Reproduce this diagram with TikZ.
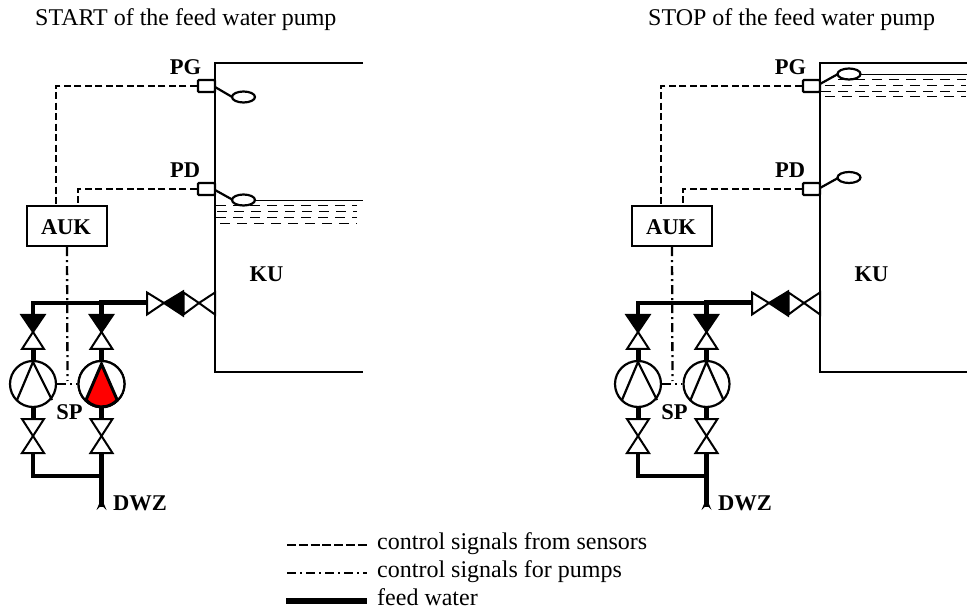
\documentclass[tikz,border=0pt]{standalone}
\usepackage{fontspec}
\setmainfont{Liberation Serif}
\usetikzlibrary{shapes.geometric}
\tikzset{
  wall/.style={line width=2.2pt},
  feed/.style={line width=5pt},
  feedthin/.style={line width=4.2pt},
  sensorsig/.style={line width=2.3pt,dash pattern=on 7pt off 3.5pt},
  pumpsig/.style={line width=2.3pt,dash pattern=on 9pt off 4pt on 2pt off 4pt},
  boxnode/.style={draw,line width=2.2pt,fill=white,inner sep=0pt},
  pumpnode/.style={draw,circle,line width=2.2pt,fill=white,minimum size=46pt,inner sep=0pt},
  floatnode/.style={draw,ellipse,line width=2.2pt,fill=white,minimum width=23pt,minimum height=11pt,inner sep=0pt},
  lab/.style={font=\fontsize{22.5}{24}\selectfont\bfseries,inner sep=0pt},
  txt/.style={font=\fontsize{24}{26}\selectfont,inner sep=0pt},
  wh/.style={draw,line width=2pt,fill=white,line join=miter},
  bl/.style={draw,line width=2pt,fill=black,line join=miter},
  waterline/.style={line width=1.2pt},
  waterdash/.style={line width=1pt,dash pattern=on 10pt off 7pt},
}
\newcommand{\feedpanel}[2]{%
\begin{scope}[xshift=#1pt,name prefix=#2-]
  % tank
  \draw[wall,line join=miter] (363,63) -- (215,63) -- (215,372) -- (363,372);
  % nodes
  \node[boxnode,minimum width=80pt,minimum height=40pt] (auk) at (67,226) {};
  \node[lab] (auklabel) at (66,227) {AUK};
  \node[boxnode,minimum width=17pt,minimum height=12pt,rounded corners=1pt] (pg) at (206.5,86) {};
  \node[boxnode,minimum width=17pt,minimum height=12pt,rounded corners=1pt] (pd) at (206.5,189) {};
  \node[pumpnode] (pl) at (33,384) {};
  \node[pumpnode] (pr) at (101.5,384) {};
  \node[lab] (lpg) at (185.5,67) {PG};
  \node[lab] (lpd) at (185,170) {PD};
  \node[lab] (lku) at (266.5,274) {KU};
  \node[lab] (lsp) at (69.5,412) {SP};
  \node[lab] (ldwz) at (140,503) {DWZ};
  % coordinates
  \coordinate (bend1) at (56,86);
  \coordinate (bend2) at (78,189);
  \coordinate (aukg) at (56,206);
  \coordinate (aukd) at (78,206);
  \coordinate (sigjoin) at (67.5,381);
  \coordinate (jl) at (33,303);
  \coordinate (jr) at (101.5,303);
  \coordinate (jv) at (147,303);
  \coordinate (bl) at (33,476);
  \coordinate (br) at (101.5,476);
  \coordinate (inlet) at (101.5,507);
  % signals
  \draw[sensorsig] (pg.west) -- (bend1) -- (aukg);
  \draw[sensorsig] (pd.west) -- (bend2) -- (aukd);
  \draw[pumpsig] (auk.south) -- (sigjoin);
  \draw[pumpsig] (pl.east) -- (pr.west);
  % feed water
  \draw[feedthin,line join=miter] (33,315) -- (jl) -- (jr);
  \draw[feed,line join=miter] (101.5,315) -- (jr) -- (jv);
  \draw[feed] (pl.north) -- (33,349);
  \draw[feed] (pr.north) -- (101.5,349);
  \draw[feed] (pl.south) -- (33,419);
  \draw[feed] (pr.south) -- (101.5,419);
  \draw[feedthin,line join=miter] (33,453) -- (bl) -- (br);
  \draw[feed] (101.5,453) -- (inlet);
  \fill (96.5,510) -- (101.5,498) -- (106.5,510) -- (101.5,505) -- cycle;
  % horizontal valves
  \path[wh] (147,292.5) -- (147,314.5) -- (164,303) -- cycle;
  \path[bl] (183,291.5) -- (183,315.5) -- (164,303) -- cycle;
  \path[wh] (183.5,292.5) -- (183.5,314.5) -- (199,303) -- cycle;
  \path[wh] (215,292.5) -- (215,314.5) -- (199,303) -- cycle;
  % vertical valves
  \foreach \vx in {33,101.5}{
    \path[bl] (\vx-11.5,315) -- (\vx+11.5,315) -- (\vx,332) -- cycle;
    \path[wh] (\vx-11,349) -- (\vx+11,349) -- (\vx,332) -- cycle;
    \path[wh] (\vx-11,419) -- (\vx+11,419) -- (\vx,436) -- cycle;
    \path[wh] (\vx-11,453) -- (\vx+11,453) -- (\vx,436) -- cycle;
  }
  % pump wedges
  \draw[line width=2.2pt,line join=miter] (17,400) -- (33,362) -- (52,400);
  \draw[line width=2.2pt,line join=miter] (85.5,400) -- (101.5,362) -- (118.5,400);
\end{scope}}
\begin{document}
\begin{tikzpicture}[x=1pt,y=-1pt]
\useasboundingbox (0,0) rectangle (967,612);
\node[txt,anchor=base west] (t1) at (35,26) {START of the feed water pump};
\node[txt,anchor=base west] (t2) at (648,26) {STOP of the feed water pump};
\feedpanel{0}{a}
\feedpanel{605}{b}
% red impeller, left panel
\node[pumpnode] (redpump) at (101.5,384) {};
\path[draw,line width=3pt,fill=red,line join=miter] (101.5,364) -- (86,400) arc[start angle=222,end angle=318,x radius=21,y radius=-21] -- cycle;
% water and floats, left
\draw[waterline] (250,200.5) -- (363,200.5);
\foreach \wy/\wx in {206/216,212/217,218/216,223.5/220}{\draw[waterdash] (\wx,\wy) -- (357,\wy);}
\draw[wall] (215,87) -- (233,97.5);
\node[floatnode] (af1) at (243.5,97) {};
\draw[wall] (215,190) -- (233,200);
\node[floatnode] (af2) at (243.5,200) {};
% water and floats, right
\draw[waterline] (860,74.3) -- (967,74.3);
\foreach \wy/\wx in {80/838,86/825,92/821,97/825}{\draw[waterdash] (\wx,\wy) -- (966,\wy);}
\draw[wall] (820,84) -- (838,74);
\node[floatnode] (bf1) at (849,74) {};
\draw[wall] (820,188) -- (838,178);
\node[floatnode] (bf2) at (849,177.5) {};
% legend
\coordinate (l1a) at (287,545);
\coordinate (l1b) at (367,545);
\coordinate (l2a) at (287,573);
\coordinate (l2b) at (367,573);
\coordinate (l3a) at (286,601);
\coordinate (l3b) at (367,601);
\draw[line width=2.3pt,dash pattern=on 9pt off 2.8pt] (l1a) -- (l1b);
\draw[pumpsig] (l2a) -- (l2b);
\draw[line width=6pt] (l3a) -- (l3b);
\node[txt,anchor=base west] (n1) at (377,549) {control signals from sensors};
\node[txt,anchor=base west] (n2) at (377,577) {control signals for pumps};
\node[txt,anchor=base west] (n3) at (377,605) {feed water};
\end{tikzpicture}
\end{document}
